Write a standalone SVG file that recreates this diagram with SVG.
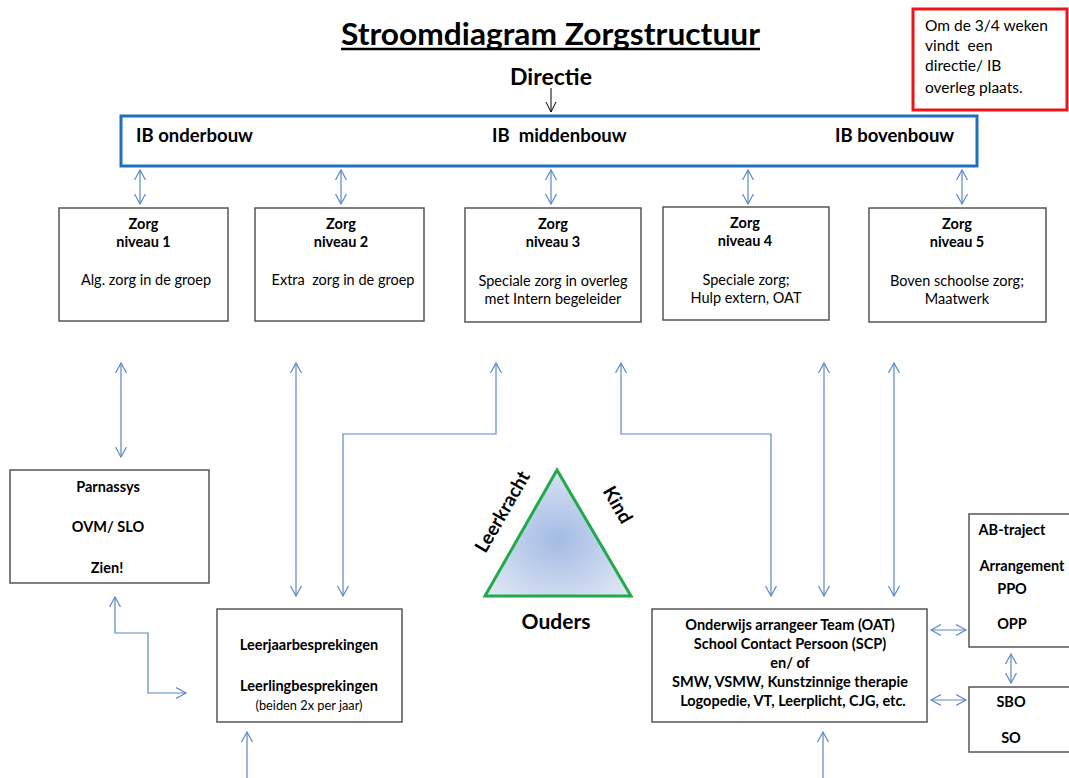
<svg xmlns="http://www.w3.org/2000/svg" width="1069" height="778" viewBox="0 0 1069 778">
<defs>
<marker id="ah" markerUnits="userSpaceOnUse" markerWidth="14" markerHeight="14" refX="10" refY="6" orient="auto-start-reverse" viewBox="0 0 14 12">
<path d="M0,0.5 L10,6 L0,11.5" fill="none" stroke="#5b88c8" stroke-width="1.2"/>
</marker>
<marker id="ahk" markerUnits="userSpaceOnUse" markerWidth="14" markerHeight="14" refX="10" refY="6" orient="auto-start-reverse" viewBox="0 0 14 12">
<path d="M0,1 L10,6 L0,11" fill="none" stroke="#000" stroke-width="1"/>
</marker>
<radialGradient id="tg" cx="0.5" cy="0.55" r="0.6">
<stop offset="0" stop-color="#a3bbe4"/>
<stop offset="1" stop-color="#dde5f4"/>
</radialGradient>
<style>
text{font-family:Lato,"Liberation Sans",sans-serif;fill:#000}
.b{font-weight:bold}
.box{fill:#fff;stroke:#555;stroke-width:1.5}
.c{stroke:#5b88c8;stroke-width:1.2;fill:none}
.t13{font-size:14.5px}
.m{text-anchor:middle}
.ib{font-size:18.5px;font-weight:bold}
.n{font-size:15.5px}
</style>
</defs>
<rect width="1069" height="778" fill="#fff"/>

<g id="title">
<text x="341" y="45" class="b" font-size="30" textLength="419" lengthAdjust="spacingAndGlyphs">Stroomdiagram Zorgstructuur</text>
<line x1="341" y1="49" x2="760" y2="49" stroke="#000" stroke-width="2.5"/>
</g>

<g id="note">
<rect x="913" y="9" width="154" height="101" fill="#fff" stroke="#e8151b" stroke-width="3"/>
<text x="925" y="31" class="n">Om de 3/4 weken</text>
<text x="925" y="51" class="n" xml:space="preserve">vindt  een</text>
<text x="925" y="71" class="n">directie/ IB</text>
<text x="925" y="93" class="n">overleg plaats.</text>
</g>

<g id="directie">
<text x="551" y="85" class="b m" font-size="23">Directie</text>
</g>

<g id="ib">
<rect x="121" y="116" width="856" height="50" fill="#fff" stroke="#1f6fbf" stroke-width="3"/>
<text x="136" y="142" class="ib">IB onderbouw</text>
<text x="492" y="142" class="ib" xml:space="preserve">IB  middenbouw</text>
<text x="835" y="142" class="ib">IB bovenbouw</text>
</g>

<g id="zorg1">
<rect x="59" y="208" width="169" height="113" class="box"/>
<text x="143.5" y="229" class="b m t13">Zorg</text>
<text x="143.5" y="247" class="b m t13">niveau 1</text>
<text x="146" y="285" class="m t13">Alg. zorg in de groep</text>
</g>
<g id="zorg2">
<rect x="255" y="208" width="169" height="113" class="box"/>
<text x="341" y="229" class="b m t13">Zorg</text>
<text x="341" y="247" class="b m t13">niveau 2</text>
<text x="343" y="285" class="m t13" xml:space="preserve">Extra  zorg in de groep</text>
</g>
<g id="zorg3">
<rect x="465" y="208" width="176" height="114" class="box"/>
<text x="553" y="229" class="b m t13">Zorg</text>
<text x="553" y="247" class="b m t13">niveau 3</text>
<text x="553" y="286" class="m t13">Speciale zorg in overleg</text>
<text x="553" y="304" class="m t13">met Intern begeleider</text>
</g>
<g id="zorg4">
<rect x="663" y="207" width="166" height="113" class="box"/>
<text x="745" y="228" class="b m t13">Zorg</text>
<text x="745" y="246" class="b m t13">niveau 4</text>
<text x="746" y="285" class="m t13">Speciale zorg;</text>
<text x="746" y="303" class="m t13">Hulp extern, OAT</text>
</g>
<g id="zorg5">
<rect x="869" y="208" width="177" height="114" class="box"/>
<text x="957" y="229" class="b m t13">Zorg</text>
<text x="957" y="247" class="b m t13">niveau 5</text>
<text x="957" y="286" class="m t13">Boven schoolse zorg;</text>
<text x="957" y="304" class="m t13">Maatwerk</text>
</g>

<g id="parnassys">
<rect x="10" y="470" width="199" height="113" class="box"/>
<text x="108" y="492" class="b m t13">Parnassys</text>
<text x="108" y="532" class="b m t13">OVM/ SLO</text>
<text x="107" y="573" class="b m t13">Zien!</text>
</g>

<g id="leerjaar">
<rect x="217" y="609" width="185" height="113" class="box"/>
<text x="309" y="650" class="b m t13">Leerjaarbesprekingen</text>
<text x="309" y="691" class="b m t13">Leerlingbesprekingen</text>
<text x="309" y="710" class="m" font-size="12.8">(beiden 2x per jaar)</text>
</g>

<g id="triangle">
<polygon points="557,470 485,596 631,596" fill="url(#tg)" stroke="#22aa4a" stroke-width="3" stroke-linejoin="miter"/>
<text class="b" font-size="19" text-anchor="middle" transform="translate(508,515) rotate(-60)">Leerkracht</text>
<text class="b" font-size="19" text-anchor="middle" transform="translate(612,508) rotate(60)">Kind</text>
<text x="556" y="629" class="b m" font-size="21">Ouders</text>
</g>

<g id="oat">
<rect x="652" y="609" width="275" height="113" class="box"/>
<text x="790" y="630" class="b m t13">Onderwijs arrangeer Team (OAT)</text>
<text x="790" y="649" class="b m t13">School Contact Persoon (SCP)</text>
<text x="790" y="668" class="b m t13">en/ of</text>
<text x="790" y="687" class="b m t13">SMW, VSMW, Kunstzinnige therapie</text>
<text x="793" y="706" class="b m t13">Logopedie, VT, Leerplicht, CJG, etc.</text>
</g>

<g id="ab">
<rect x="969" y="514" width="110" height="133" class="box"/>
<text x="1012" y="535" class="b m t13">AB-traject</text>
<text x="1022" y="571" class="b m t13">Arrangement</text>
<text x="1012" y="594" class="b m t13">PPO</text>
<text x="1012" y="629" class="b m t13">OPP</text>
</g>

<g id="sbo">
<rect x="969" y="687" width="110" height="65" class="box"/>
<text x="1011" y="707" class="b m t13">SBO</text>
<text x="1011" y="743" class="b m t13">SO</text>
</g>

<g id="connectors">
<line x1="551" y1="88" x2="551" y2="112" stroke="#000" stroke-width="1" marker-end="url(#ahk)"/>
<line x1="140" y1="170" x2="140" y2="204" class="c" marker-start="url(#ah)" marker-end="url(#ah)"/>
<line x1="341" y1="170" x2="341" y2="204" class="c" marker-start="url(#ah)" marker-end="url(#ah)"/>
<line x1="551" y1="170" x2="551" y2="204" class="c" marker-start="url(#ah)" marker-end="url(#ah)"/>
<line x1="748" y1="170" x2="748" y2="204" class="c" marker-start="url(#ah)" marker-end="url(#ah)"/>
<line x1="962" y1="170" x2="962" y2="204" class="c" marker-start="url(#ah)" marker-end="url(#ah)"/>
<line x1="121" y1="363" x2="121" y2="457" class="c" marker-start="url(#ah)" marker-end="url(#ah)"/>
<line x1="296" y1="363" x2="296" y2="596" class="c" marker-start="url(#ah)" marker-end="url(#ah)"/>
<polyline points="343,596 343,434 496,434 496,363" class="c" marker-start="url(#ah)" marker-end="url(#ah)"/>
<polyline points="621,363 621,434 771,434 771,596" class="c" marker-start="url(#ah)" marker-end="url(#ah)"/>
<line x1="824" y1="363" x2="824" y2="596" class="c" marker-start="url(#ah)" marker-end="url(#ah)"/>
<line x1="894" y1="363" x2="894" y2="596" class="c" marker-start="url(#ah)" marker-end="url(#ah)"/>
<polyline points="115,597 115,633 148,633 148,693 186,693" class="c" marker-start="url(#ah)" marker-end="url(#ah)"/>
<line x1="247" y1="778" x2="247" y2="732" class="c" marker-end="url(#ah)"/>
<line x1="823" y1="778" x2="823" y2="732" class="c" marker-end="url(#ah)"/>
<line x1="931" y1="630" x2="966" y2="630" class="c" marker-start="url(#ah)" marker-end="url(#ah)"/>
<line x1="931" y1="700" x2="966" y2="700" class="c" marker-start="url(#ah)" marker-end="url(#ah)"/>
<line x1="1011" y1="654" x2="1011" y2="683" class="c" marker-start="url(#ah)" marker-end="url(#ah)"/>
</g>
</svg>
